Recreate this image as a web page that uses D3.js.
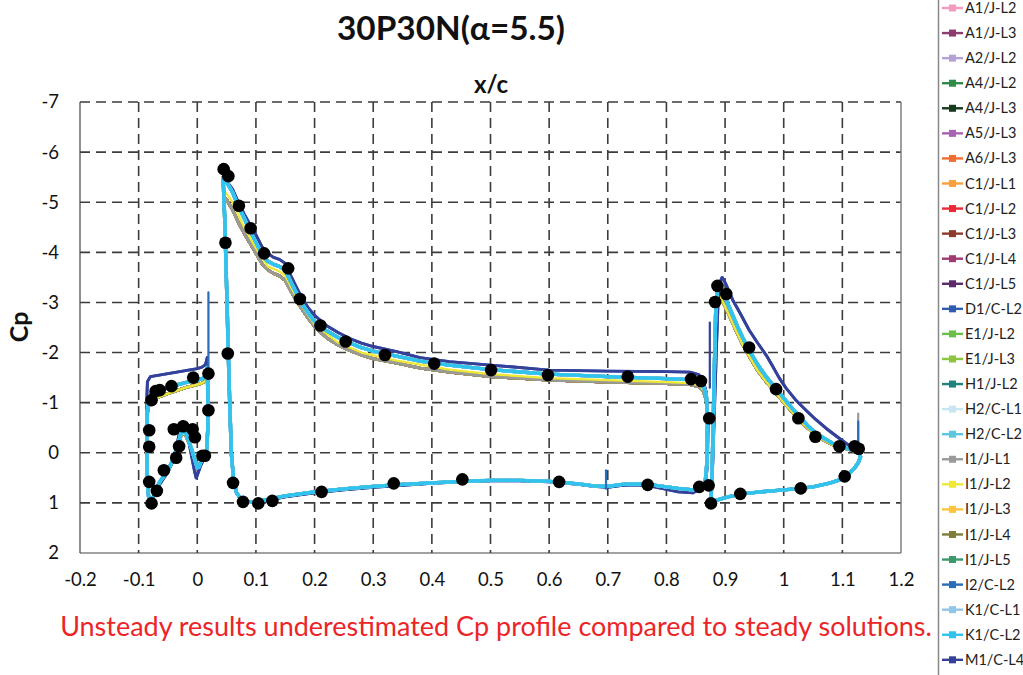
<!DOCTYPE html>
<html>
<head>
<meta charset="utf-8">
<script src="https://cdn.jsdelivr.net/npm/d3@7"></script>
<style>
  body { margin: 0; background: #fff; }
  svg { display: block; font-family: Lato, 'Noto Sans', sans-serif; }
</style>
</head>
<body>
<svg id="chart" width="1023" height="675"></svg>
<script>
// 30P30N pressure distributions, alpha = 5.5, all submissions vs experiment

const seriesNames = ['A1/J-L2', 'A1/J-L3', 'A2/J-L2', 'A4/J-L2', 'A4/J-L3', 'A5/J-L3', 'A6/J-L3',
    'C1/J-L1', 'C1/J-L2', 'C1/J-L3', 'C1/J-L4', 'C1/J-L5', 'D1/C-L2', 'E1/J-L2', 'E1/J-L3',
    'H1/J-L2', 'H2/C-L1', 'H2/C-L2', 'I1/J-L1', 'I1/J-L2', 'I1/J-L3', 'I1/J-L4', 'I1/J-L5',
    'I2/C-L2', 'K1/C-L1', 'K1/C-L2', 'M1/C-L4'];
const seriesColors = ['#f49ac2', '#8e3b6f', '#b3a2d3', '#2e8b48', '#183a1e', '#a862b4', '#f26d2f',
    '#f8a13c', '#ec2a35', '#8d3a2c', '#a13a72', '#5b2a6b', '#2f5cb0', '#6abf4b', '#8cc540',
    '#1f827e', '#c7e6f1', '#5cc8dd', '#9a9a9a', '#eee836', '#fbc43c', '#7e7c38', '#3a9a6b',
    '#2a6db8', '#92c5ea', '#2fc3ee', '#35409a'];
// which of the read-off profiles each submission follows
const seriesProfile = ['low', 'low', 'low', 'low', 'low', 'low', 'low',
    'low', 'low', 'low', 'low', 'low', 'high', 'low', 'low',
    'mid', 'mid', 'mid', 'low', 'yel', 'low', 'low', 'mid',
    'mid', 'mid', 'mid', 'high'];
const drawOrder = ['A1/J-L2', 'A1/J-L3', 'A2/J-L2', 'A4/J-L2', 'A4/J-L3', 'A5/J-L3', 'A6/J-L3',
    'C1/J-L1', 'C1/J-L2', 'C1/J-L3', 'C1/J-L4', 'C1/J-L5', 'E1/J-L2', 'E1/J-L3', 'I1/J-L3',
    'I1/J-L4', 'I1/J-L1', 'I1/J-L2', 'D1/C-L2', 'M1/C-L4', 'H1/J-L2', 'I1/J-L5', 'I2/C-L2',
    'H2/C-L1', 'K1/C-L1', 'H2/C-L2', 'K1/C-L2'];

// slat, closed loops [x/c, Cp]
const slatLow = [[-0.079, 1.0], [-0.083, 0.88], [-0.085, 0.6], [-0.086, 0.2], [-0.086, -0.4], [-0.085, -0.8],
    [-0.082, -0.98], [-0.077, -1.05], [-0.068, -1.1], [-0.06, -1.14], [-0.05, -1.18], [-0.04, -1.22],
    [-0.03, -1.26], [-0.02, -1.3], [-0.01, -1.33], [0.0, -1.36], [0.008, -1.39], [0.014, -1.43],
    [0.017, -1.58], [0.018, -1.1], [0.018, -0.5], [0.016, -0.05], [0.013, 0.05], [0.008, 0.12],
    [0.003, 0.25], [0.0, 0.27], [-0.004, 0.13], [-0.009, -0.05], [-0.015, -0.22], [-0.02, -0.35],
    [-0.024, -0.4], [-0.028, -0.33], [-0.032, -0.17], [-0.036, -0.03], [-0.042, 0.17], [-0.048, 0.32],
    [-0.056, 0.47], [-0.064, 0.6], [-0.07, 0.73], [-0.075, 0.88], [-0.079, 1.0]];
const slatMid = [[-0.079, 1.0], [-0.083, 0.88], [-0.085, 0.6], [-0.086, 0.2], [-0.086, -0.4], [-0.085, -0.85],
    [-0.082, -1.1], [-0.078, -1.2], [-0.07, -1.25], [-0.06, -1.28], [-0.05, -1.31], [-0.04, -1.34],
    [-0.03, -1.37], [-0.02, -1.4], [-0.01, -1.43], [0.0, -1.45], [0.008, -1.48], [0.014, -1.52],
    [0.017, -1.7], [0.018, -1.2], [0.018, -0.5], [0.016, -0.05], [0.013, 0.05], [0.008, 0.12],
    [0.003, 0.28], [0.0, 0.3], [-0.004, 0.15], [-0.009, -0.05], [-0.015, -0.25], [-0.02, -0.4],
    [-0.024, -0.45], [-0.028, -0.38], [-0.032, -0.2], [-0.036, -0.05], [-0.042, 0.15], [-0.048, 0.3],
    [-0.056, 0.45], [-0.064, 0.58], [-0.07, 0.72], [-0.075, 0.88], [-0.079, 1.0]];
const slatHigh = [[-0.079, 1.0], [-0.083, 0.9], [-0.085, 0.6], [-0.086, 0.2], [-0.086, -0.5], [-0.086, -1.1],
    [-0.085, -1.42], [-0.08, -1.52], [-0.07, -1.54], [-0.06, -1.56], [-0.05, -1.58], [-0.04, -1.6],
    [-0.03, -1.62], [-0.02, -1.64], [-0.01, -1.66], [0.0, -1.68], [0.008, -1.71], [0.014, -1.76],
    [0.017, -1.9], [0.018, -1.3], [0.018, -0.5], [0.016, -0.05], [0.012, 0.1], [0.006, 0.25],
    [0.0, 0.45], [-0.002, 0.5], [-0.005, 0.35], [-0.01, 0.05], [-0.015, -0.25], [-0.02, -0.5],
    [-0.025, -0.62], [-0.029, -0.5], [-0.033, -0.25], [-0.037, -0.05], [-0.043, 0.2], [-0.05, 0.38],
    [-0.058, 0.52], [-0.066, 0.66], [-0.072, 0.8], [-0.076, 0.92], [-0.079, 1.0]];

// main element, suction side from the leading edge peak to the trailing edge
const mainUpperLow = [[0.045, -5.1], [0.05, -5.05], [0.06, -4.85], [0.07, -4.6], [0.08, -4.38], [0.09, -4.18],
    [0.1, -3.98], [0.11, -3.78], [0.12, -3.65], [0.13, -3.58], [0.14, -3.53], [0.15, -3.44], [0.16, -3.22],
    [0.17, -3.02], [0.18, -2.84], [0.19, -2.67], [0.2, -2.52], [0.22, -2.3], [0.24, -2.15], [0.26, -2.04],
    [0.28, -1.95], [0.3, -1.88], [0.34, -1.79], [0.38, -1.69], [0.43, -1.61], [0.5, -1.52], [0.6, -1.45],
    [0.7, -1.41], [0.8, -1.38], [0.84, -1.36], [0.855, -1.32], [0.863, -1.22], [0.868, -1.05]];
const mainUpperYel = [[0.045, -5.25], [0.06, -5.0], [0.08, -4.5], [0.1, -4.08], [0.12, -3.72], [0.14, -3.62],
    [0.15, -3.53], [0.17, -3.08], [0.2, -2.56], [0.24, -2.2], [0.28, -2.0], [0.34, -1.84], [0.43, -1.66],
    [0.5, -1.57], [0.6, -1.49], [0.7, -1.45], [0.8, -1.41], [0.84, -1.39], [0.855, -1.35], [0.863, -1.26],
    [0.868, -1.1]];
const mainUpperMid = [[0.044, -5.5], [0.05, -5.4], [0.06, -5.2], [0.07, -4.92], [0.08, -4.68], [0.09, -4.43],
    [0.1, -4.2], [0.11, -3.96], [0.12, -3.82], [0.13, -3.76], [0.14, -3.72], [0.15, -3.64], [0.16, -3.4],
    [0.17, -3.17], [0.18, -2.95], [0.19, -2.78], [0.2, -2.62], [0.22, -2.44], [0.24, -2.3], [0.26, -2.19],
    [0.28, -2.1], [0.3, -2.03], [0.34, -1.93], [0.38, -1.83], [0.43, -1.75], [0.5, -1.66], [0.6, -1.57],
    [0.7, -1.52], [0.8, -1.48], [0.84, -1.46], [0.855, -1.42], [0.863, -1.33], [0.868, -1.15]];
const mainUpperHigh = [[0.044, -5.45], [0.05, -5.42], [0.06, -5.26], [0.07, -5.0], [0.08, -4.76], [0.09, -4.55],
    [0.1, -4.35], [0.11, -4.12], [0.12, -3.98], [0.13, -3.9], [0.14, -3.86], [0.15, -3.78], [0.16, -3.52],
    [0.17, -3.28], [0.18, -3.05], [0.19, -2.88], [0.2, -2.74], [0.22, -2.54], [0.24, -2.4], [0.26, -2.28],
    [0.28, -2.19], [0.3, -2.12], [0.34, -2.02], [0.38, -1.9], [0.43, -1.82], [0.5, -1.75], [0.6, -1.65],
    [0.7, -1.63], [0.8, -1.62], [0.84, -1.61], [0.855, -1.56], [0.863, -1.42], [0.868, -1.2]];
// main element, pressure side from the trailing edge back round the leading edge
const mainLower = [[0.87, -0.6], [0.869, 0.2], [0.866, 0.6], [0.86, 0.66], [0.845, 0.74], [0.82, 0.71],
    [0.8, 0.68], [0.775, 0.64], [0.75, 0.62], [0.725, 0.63], [0.7, 0.67], [0.675, 0.66], [0.65, 0.62],
    [0.6, 0.57], [0.55, 0.55], [0.5, 0.55], [0.45, 0.57], [0.4, 0.6], [0.35, 0.63], [0.3, 0.67], [0.25, 0.72],
    [0.2, 0.78], [0.15, 0.86], [0.12, 0.93], [0.1, 0.98], [0.085, 0.98], [0.075, 0.93], [0.067, 0.8],
    [0.062, 0.55], [0.058, 0.0], [0.054, -1.5], [0.05, -3.3], [0.047, -4.6]];
const mainLowerHigh = [[0.871, -0.6], [0.87, 0.2], [0.867, 0.62], [0.86, 0.7], [0.845, 0.8], [0.82, 0.78],
    [0.8, 0.73], [0.775, 0.67], [0.75, 0.64], [0.725, 0.65], [0.7, 0.69], [0.675, 0.67], [0.65, 0.63],
    [0.6, 0.58], [0.55, 0.56], [0.5, 0.56], [0.45, 0.58], [0.4, 0.61], [0.35, 0.65], [0.3, 0.69], [0.25, 0.74],
    [0.2, 0.8], [0.15, 0.88], [0.12, 0.95], [0.1, 0.99], [0.085, 0.99], [0.075, 0.94], [0.067, 0.8],
    [0.062, 0.55], [0.058, 0.0], [0.054, -1.5], [0.05, -3.3], [0.047, -4.7]];

// flap, suction side from the stagnation point to the trailing edge
const flapUpperLow = [[0.876, 0.98], [0.878, 0.3], [0.88, -0.7], [0.882, -1.7], [0.884, -2.6], [0.887, -3.1],
    [0.889, -3.2], [0.893, -3.08], [0.9, -2.92], [0.907, -2.74], [0.92, -2.4], [0.93, -2.16], [0.941, -1.93],
    [0.955, -1.65], [0.97, -1.42], [0.985, -1.21], [0.998, -1.03], [1.012, -0.85], [1.027, -0.65],
    [1.04, -0.5], [1.055, -0.35], [1.07, -0.24], [1.083, -0.16], [1.1, -0.1], [1.112, -0.06], [1.122, -0.03],
    [1.129, 0.02], [1.131, 0.08]];
const flapUpperMid = [[0.876, 0.98], [0.878, 0.3], [0.88, -0.7], [0.882, -1.8], [0.884, -2.8], [0.887, -3.3],
    [0.889, -3.38], [0.893, -3.25], [0.9, -3.1], [0.907, -2.91], [0.92, -2.55], [0.93, -2.3], [0.941, -2.05],
    [0.955, -1.77], [0.97, -1.52], [0.985, -1.3], [0.998, -1.12], [1.012, -0.92], [1.027, -0.72],
    [1.04, -0.55], [1.055, -0.39], [1.07, -0.28], [1.083, -0.19], [1.1, -0.12], [1.112, -0.08], [1.122, -0.04],
    [1.129, 0.02], [1.131, 0.08]];
const flapUpperHigh = [[0.876, 0.98], [0.879, 0.2], [0.882, -0.9], [0.885, -2.0], [0.888, -3.0], [0.891, -3.4],
    [0.895, -3.5], [0.9, -3.4], [0.913, -3.05], [0.925, -2.8], [0.941, -2.45], [0.955, -2.2], [0.97, -1.95],
    [0.98, -1.75], [0.992, -1.5], [1.004, -1.29], [1.02, -1.06], [1.038, -0.85], [1.055, -0.66],
    [1.072, -0.49], [1.09, -0.33], [1.106, -0.19], [1.12, -0.08], [1.129, 0.02], [1.131, 0.08]];
const flapLower = [[1.127, 0.2], [1.12, 0.32], [1.11, 0.43], [1.1, 0.52], [1.08, 0.6], [1.05, 0.68],
    [1.02, 0.72], [0.99, 0.75], [0.96, 0.78], [0.93, 0.82], [0.905, 0.88], [0.89, 0.93], [0.88, 0.97],
    [0.876, 0.98]];

// short trailing-edge spikes seen in a few submissions
const spikeSeries = ['I2/C-L2', 'I2/C-L2', 'M1/C-L4', 'I1/J-L1', 'I2/C-L2'];
const spikeX = [[0.019, 0.019], [0.697, 0.697], [0.874, 0.874], [1.127, 1.127], [1.127, 1.127]];
const spikeCp = [[-1.6, -3.2], [0.72, 0.35], [-1.3, -2.6], [0.0, -0.78], [0.0, -0.62]];

// experiment
const expX = [-0.082, -0.082, -0.082, -0.069, -0.078, -0.057, -0.036, -0.031, -0.040, -0.024, -0.008, -0.004,
    0.009, 0.013, 0.019, 0.019, -0.007, -0.044, -0.064, -0.071, -0.078,
    0.045, 0.053, 0.071, 0.091, 0.114, 0.155, 0.175, 0.210, 0.253, 0.320, 0.404, 0.501, 0.598, 0.734,
    0.842, 0.859, 0.873, 0.048, 0.052, 0.061, 0.078, 0.104, 0.128, 0.212, 0.335, 0.452, 0.617, 0.768,
    0.856, 0.872, 0.876,
    0.887, 0.883, 0.902, 0.941, 0.987, 1.025, 1.054, 1.095, 1.121, 1.128, 1.104, 1.029, 0.926];
const expCp = [-0.45, -0.12, 0.58, 0.76, 1.01, 0.35, 0.10, -0.13, -0.47, -0.53, -0.47, -0.31,
    0.06, 0.06, -0.85, -1.58, -1.50, -1.33, -1.25, -1.23, -1.05,
    -5.66, -5.52, -4.93, -4.48, -3.98, -3.68, -3.07, -2.54, -2.22, -1.95, -1.78, -1.65, -1.55, -1.52,
    -1.47, -1.43, -0.69, -4.19, -1.98, 0.60, 0.98, 1.01, 0.96, 0.78, 0.61, 0.53, 0.58, 0.64,
    0.68, 0.65, 1.01,
    -3.33, -3.01, -3.17, -2.10, -1.27, -0.69, -0.32, -0.13, -0.13, -0.08, 0.47, 0.71, 0.82];

const xTicks = [-0.2, -0.1, 0, 0.1, 0.2, 0.3, 0.4, 0.5, 0.6, 0.7, 0.8, 0.9, 1, 1.1, 1.2];
const yTicks = [-7, -6, -5, -4, -3, -2, -1, 0, 1, 2];

const profiles = {
    low: [slatLow, mainUpperLow.concat(mainLower), flapUpperLow.concat(flapLower)],
    yel: [slatLow, mainUpperYel.concat(mainLower), flapUpperLow.concat(flapLower)],
    mid: [slatMid, mainUpperMid.concat(mainLower), flapUpperMid.concat(flapLower)],
    high: [slatHigh, mainUpperHigh.concat(mainLowerHigh), flapUpperHigh.concat(flapLower)],
};
const profileWidth = { low: 2.8, yel: 2.2, mid: 3.4, high: 2.9 };

const svg = d3.select('#chart');
const plot = { left: 80, right: 901, top: 102, bottom: 553 };

const x = d3.scaleLinear().domain([-0.2, 1.2]).range([plot.left, plot.right]);
const y = d3.scaleLinear().domain([-7, 2]).range([plot.top, plot.bottom]);

const colorOf = d3.scaleOrdinal().domain(seriesNames).range(seriesColors);
const profileOf = d3.scaleOrdinal().domain(seriesNames).range(seriesProfile);

// grid
const grid = svg.append('g').attr('class', 'grid')
    .attr('stroke', '#3c3c3c').attr('stroke-width', 1.6).attr('stroke-dasharray', '10,6');
grid.selectAll('.gx').data(xTicks.slice(1, -1)).enter().append('line')
    .attr('x1', d => x(d)).attr('x2', d => x(d)).attr('y1', plot.top).attr('y2', plot.bottom);
grid.selectAll('.gy').data(yTicks.slice(0, -1)).enter().append('line')
    .attr('y1', d => y(d)).attr('y2', d => y(d)).attr('x1', plot.left).attr('x2', plot.right);

svg.append('line').attr('x1', plot.left).attr('x2', plot.left).attr('y1', plot.top).attr('y2', plot.bottom)
    .attr('stroke', '#444').attr('stroke-width', 1.2);
svg.append('line').attr('x1', plot.left).attr('x2', plot.right).attr('y1', plot.bottom).attr('y2', plot.bottom)
    .attr('stroke', '#444').attr('stroke-width', 1.2);
svg.append('line').attr('x1', plot.right).attr('x2', plot.right).attr('y1', plot.top).attr('y2', plot.bottom)
    .attr('stroke', '#777').attr('stroke-width', 1.4);

// axes (labels only)
const xAxis = svg.append('g').attr('transform', `translate(0,${plot.bottom + 17})`)
    .call(d3.axisBottom(x).tickValues(xTicks).tickSize(0).tickFormat(d3.format('')));
const yAxis = svg.append('g').attr('transform', `translate(${plot.left - 20},0)`)
    .call(d3.axisLeft(y).tickValues(yTicks).tickSize(0).tickFormat(d3.format('')));
[xAxis, yAxis].forEach(a => {
    a.select('.domain').remove();
    a.selectAll('text').attr('font-family', 'Lato, sans-serif').attr('font-size', 18.5).attr('fill', '#111');
});
xAxis.selectAll('text').text(d => d3.format('')(d).replace('−', '-'));
yAxis.selectAll('text').text(d => d3.format('')(d).replace('−', '-')).attr('dx', 2);

// series
const line = d3.line().x(d => x(d[0])).y(d => y(d[1]));
const curves = svg.append('g').attr('class', 'curves').attr('fill', 'none')
    .attr('stroke-linejoin', 'round').attr('stroke-linecap', 'round');

drawOrder.forEach(name => {
    const g = curves.append('g').attr('class', 'series');
    g.selectAll('path').data(profiles[profileOf(name)]).enter().append('path')
        .attr('d', d => line(d) + 'Z')
        .attr('stroke', colorOf(name))
        .attr('stroke-width', profileWidth[profileOf(name)])
        .attr('stroke-dasharray', name === 'H2/C-L1' ? '3,3' : null);
});

curves.selectAll('.spike').data(spikeSeries).enter().append('path')
    .attr('class', 'spike')
    .attr('d', (d, i) => line(d3.zip(spikeX[i], spikeCp[i])))
    .attr('stroke', d => colorOf(d))
    .attr('stroke-width', 2.2);

// experiment
svg.append('g').selectAll('circle').data(d3.zip(expX, expCp)).enter().append('circle')
    .attr('cx', d => x(d[0])).attr('cy', d => y(d[1])).attr('r', 6.3).attr('fill', '#000');

// titles
function fitText(sel, width) {
    const len = sel.node().getComputedTextLength();
    sel.attr('font-size', +sel.attr('font-size') * width / len);
}

fitText(svg.append('text').attr('x', 451).attr('y', 40).attr('text-anchor', 'middle')
    .attr('font-weight', 700).attr('font-size', 27).attr('fill', '#111')
    .text('30P30N(α=5.5)'), 228);
svg.append('text').attr('x', 491).attr('y', 93).attr('text-anchor', 'middle')
    .attr('font-weight', 700).attr('font-size', 24).attr('fill', '#111').text('x/c');
svg.append('text').attr('transform', 'translate(28,327) rotate(-90)').attr('text-anchor', 'middle')
    .attr('font-weight', 700).attr('font-size', 25).attr('fill', '#111').text('Cp');

fitText(svg.append('text').attr('x', 496).attr('y', 636).attr('text-anchor', 'middle')
    .attr('font-size', 24).attr('fill', '#ec2428')
    .text('Unsteady results underestimated Cp profile compared to steady solutions.'), 872);

// legend
const legend = svg.append('g').attr('class', 'legend');
legend.append('line').attr('x1', 938.5).attr('x2', 938.5).attr('y1', 0).attr('y2', 675)
    .attr('stroke', '#888').attr('stroke-width', 1.5);
const items = legend.selectAll('.item').data(seriesNames).enter().append('g')
    .attr('class', 'item')
    .attr('transform', (d, i) => `translate(0,${8 + i * 25.07})`);
items.append('line').attr('x1', 942).attr('x2', 963).attr('stroke', d => colorOf(d)).attr('stroke-width', 2.4);
items.append('rect').attr('x', 949).attr('y', -3.5).attr('width', 7).attr('height', 7).attr('fill', d => colorOf(d));
items.append('text').attr('x', 965).attr('dy', '0.35em').attr('font-size', 14.5).attr('fill', '#222').text(d => d);
</script>
</body>
</html>
